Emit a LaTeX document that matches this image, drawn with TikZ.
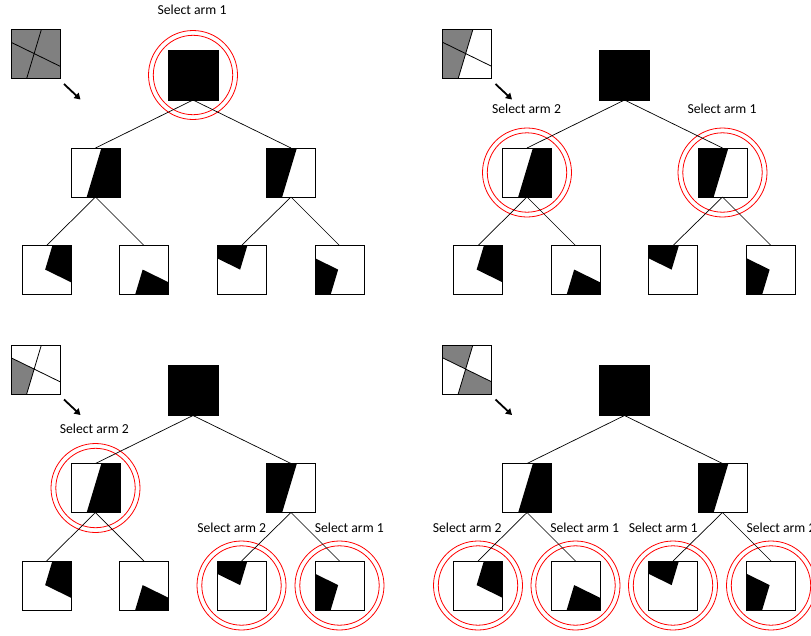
\documentclass[tikz,border=0pt]{standalone}
\usepackage{fontspec}
\setmainfont{Carlito}
\usetikzlibrary{calc,arrows.meta}
\pgfdeclarelayer{back}
\pgfsetlayers{back,main}
\definecolor{tgray}{RGB}{128,128,128}

% corner and cut points inside a path picture
\newcommand{\ppts}{%
  \coordinate (NW) at (path picture bounding box.north west);
  \coordinate (NE) at (path picture bounding box.north east);
  \coordinate (SW) at (path picture bounding box.south west);
  \coordinate (SE) at (path picture bounding box.south east);
  \coordinate (T) at ($(NW)!0.62!(NE)$);
  \coordinate (B) at ($(SW)!0.32!(SE)$);
  \coordinate (L) at ($(NW)!0.26!(SW)$);
  \coordinate (R) at ($(NE)!0.75!(SE)$);
  \coordinate (C) at (intersection of T--B and L--R);}
\newcommand{\fRH}[1]{\fill[#1] (T)--(NE)--(SE)--(B)--cycle;}
\newcommand{\fLH}[1]{\fill[#1] (NW)--(T)--(B)--(SW)--cycle;}
\newcommand{\fTR}[1]{\fill[#1] (C)--(T)--(NE)--(R)--cycle;}
\newcommand{\fBR}[1]{\fill[#1] (C)--(R)--(SE)--(B)--cycle;}
\newcommand{\fTL}[1]{\fill[#1] (NW)--(T)--(C)--(L)--cycle;}
\newcommand{\fBL}[1]{\fill[#1] (L)--(C)--(B)--(SW)--cycle;}
\newcommand{\thlines}{\draw[line width=0.8pt] (T)--(B) (L)--(R);}

\tikzset{
  sbox/.style={rectangle, draw=black, line width=0.8pt, minimum size=49pt,
    inner sep=0pt, outer sep=0pt},
  pp/.style={path picture={\ppts #1}},
  rootbox/.style={sbox, fill=black, minimum size=50pt},
  ring/.style={draw=red, line width=0.8pt},
  conn/.style={draw=black, line width=0.7pt},
  lbl/.style={font=\fontsize{13.7}{16}\selectfont, inner sep=0pt},
  hint/.style={draw=black, line width=1.8pt, -{Triangle[length=6pt,width=7pt]}}
}

% common tree of one panel, #1 = prefix, #2 = thumbnail fills
\newcommand{\treebase}[2]{%
  \node[sbox, pp={#2\thlines}] (#1th) at (35.5,54) {};
  \coordinate (#1h1) at (64,84);
  \coordinate (#1h2) at (80.5,99.5);
  \draw[hint] (#1h1) -- (#1h2);
  \node[rootbox] (#1r) at (193,75) {};
  \node[sbox, pp={\fRH{black}}] (#1a) at (95.5,172.5) {};
  \node[sbox, pp={\fLH{black}}] (#1b) at (291,172.5) {};
  \node[sbox, pp={\fTR{black}}] (#1aa) at (46.5,270) {};
  \node[sbox, pp={\fBR{black}}] (#1ab) at (144,270) {};
  \node[sbox, pp={\fTL{black}}] (#1ba) at (241.5,270) {};
  \node[sbox, pp={\fBL{black}}] (#1bb) at (339.5,270) {};
  \draw[conn] (#1r.south) -- (#1a.north);
  \draw[conn] (#1r.south) -- (#1b.north);
  \draw[conn] (#1a.south) -- (#1aa.north);
  \draw[conn] (#1a.south) -- (#1ab.north);
  \draw[conn] (#1b.south) -- (#1ba.north);
  \draw[conn] (#1b.south) -- (#1bb.north);}
\newcommand{\rings}[1]{%
  \begin{pgfonlayer}{back}
  \draw[ring] (#1) circle[radius=39.7pt];
  \draw[ring] (#1) circle[radius=44.5pt];
  \end{pgfonlayer}}

\begin{document}
\begin{tikzpicture}[x=1pt,y=-1pt]
\useasboundingbox (0,0) rectangle (811,635);
\clip (0,0) rectangle (811,635);

% panel 1
\begin{scope}
  \treebase{p}{\fill[tgray] (NW) rectangle (SE);}
  \rings{pr}
  \node[lbl] (pl1) at (192,10) {Select arm 1};
\end{scope}

% panel 2
\begin{scope}[shift={(431.5,0)}]
  \treebase{q}{\fLH{tgray}}
  \rings{qa}
  \rings{qb}
  \node[lbl] (ql1) at (95,109) {Select arm 2};
  \node[lbl] (ql2) at (290.5,109) {Select arm 1};
\end{scope}

% panel 3
\begin{scope}[shift={(0,315.5)}]
  \treebase{s}{\fBL{tgray}}
  \rings{sa}
  \rings{sba}
  \rings{sbb}
  \node[lbl] (sl1) at (94.3,113) {Select arm 2};
  \node[lbl] (sl2) at (231.7,212.2) {Select arm 2};
  \node[lbl] (sl3) at (349.3,212.2) {Select arm 1};
\end{scope}

% panel 4
\begin{scope}[shift={(431.5,315.5)}]
  \treebase{t}{\fTL{tgray}\fBR{tgray}}
  \rings{taa}
  \rings{tab}
  \rings{tba}
  \rings{tbb}
  \node[lbl] (tl1) at (35.7,212.2) {Select arm 2};
  \node[lbl] (tl2) at (153.2,212.2) {Select arm 1};
  \node[lbl] (tl3) at (231.7,212.2) {Select arm 1};
  \node[lbl] (tl4) at (349.5,212.2) {Select arm 2};
\end{scope}
\end{tikzpicture}
\end{document}
